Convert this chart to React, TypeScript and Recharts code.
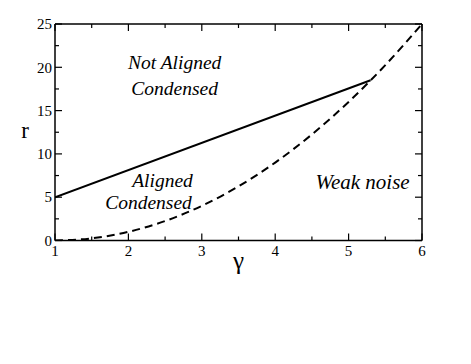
import React from 'react';
import { LineChart, Line, XAxis, YAxis, ReferenceDot, Label } from 'recharts';

const gammaTicks = [1, 1.5, 2, 2.5, 3, 3.5, 4, 4.5, 5, 5.5, 6];
const rTicks = [0, 2.5, 5, 7.5, 10, 12.5, 15, 17.5, 20, 22.5, 25];
const xMajor = [1, 2, 3, 4, 5, 6];
const yMajor = [0, 5, 10, 15, 20, 25];

const solidBoundary = [
  { g: 1, r: 5 },
  { g: 5.3, r: 18.5 },
];

const dashedBoundary = [
  { g: 1, r: 0 },
  { g: 1.5, r: 0.25 },
  { g: 2, r: 1 },
  { g: 2.5, r: 2.25 },
  { g: 3, r: 4 },
  { g: 3.5, r: 6.25 },
  { g: 4, r: 9 },
  { g: 4.5, r: 12.25 },
  { g: 5, r: 16 },
  { g: 5.5, r: 20.25 },
  { g: 6, r: 25 },
];

const annotations = [
  { text: 'Not Aligned', g: 2.63, r: 19.8, size: 19.5 },
  { text: 'Condensed', g: 2.63, r: 16.8, size: 19.5 },
  { text: 'Aligned', g: 2.465, r: 6.18, size: 19.5 },
  { text: 'Condensed', g: 2.274, r: 3.64, size: 19.5 },
  { text: 'Weak noise', g: 5.19, r: 5.95, size: 21 },
];

const FONT = "'Liberation Serif'";
const MAJ = 7;
const MIN = 4;

const BottomTick = (props: any) => {
  const { x, y, payload } = props;
  const major = xMajor.includes(payload.value);
  return (
    <g>
      <line x1={x} y1={y} x2={x} y2={y - (major ? MAJ : MIN)} stroke="#000" strokeWidth={1.2} />
      {major && (
        <text x={x} y={y + 5} dy="0.71em" textAnchor="middle" style={{ fontFamily: FONT, fontSize: 15 }} fill="#000">
          {payload.value}
        </text>
      )}
    </g>
  );
};

const TopTick = (props: any) => {
  const { x, y, payload } = props;
  const major = xMajor.includes(payload.value);
  return <line x1={x} y1={y} x2={x} y2={y + (major ? MAJ : MIN)} stroke="#000" strokeWidth={1.2} />;
};

const LeftTick = (props: any) => {
  const { x, y, payload } = props;
  const major = yMajor.includes(payload.value);
  return (
    <g>
      <line x1={x} y1={y} x2={x + (major ? MAJ : MIN)} y2={y} stroke="#000" strokeWidth={1.2} />
      {major && (
        <text x={x - 3} y={y} dy="0.35em" textAnchor="end" style={{ fontFamily: FONT, fontSize: 15 }} fill="#000">
          {payload.value}
        </text>
      )}
    </g>
  );
};

const RightTick = (props: any) => {
  const { x, y, payload } = props;
  const major = yMajor.includes(payload.value);
  return <line x1={x} y1={y} x2={x - (major ? MAJ : MIN)} y2={y} stroke="#000" strokeWidth={1.2} />;
};

const AnnotationShape = (text: string, size: number) => (props: any) => {
  const { cx, cy } = props;
  return (
    <text x={cx} y={cy} textAnchor="middle" style={{ fontFamily: FONT, fontStyle: 'italic', fontSize: size }} fill="#000">
      {text}
    </text>
  );
};

const GammaLabel = (props: any) => {
  const vb = props.viewBox;
  return (
    <text x={vb.x + vb.width / 2} y={vb.y + 28} textAnchor="middle" style={{ fontFamily: FONT, fontSize: 25 }} fill="#000">
      γ
    </text>
  );
};

const RLabel = (props: any) => {
  const vb = props.viewBox;
  return (
    <text x={vb.x + vb.width - 30} y={vb.y + vb.height / 2 + 6} textAnchor="middle" style={{ fontFamily: FONT, fontSize: 23 }} fill="#000">
      r
    </text>
  );
};

const axisLine = { stroke: '#000', strokeWidth: 1.5 };

export default function App() {
  return (
    <LineChart width={463} height={340} margin={{ top: 15, right: 48, bottom: 77.5, left: 17 }}>
      <XAxis
        xAxisId="b"
        type="number"
        dataKey="g"
        domain={[1, 6]}
        ticks={gammaTicks}
        interval={0}
        allowDataOverflow
        height={30}
        tickSize={0}
        tickMargin={0}
        tickLine={false}
        axisLine={axisLine}
        tick={<BottomTick />}
      >
        <Label content={<GammaLabel />} />
      </XAxis>
      <XAxis
        xAxisId="t"
        orientation="top"
        type="number"
        dataKey="g"
        domain={[1, 6]}
        ticks={gammaTicks}
        interval={0}
        allowDataOverflow
        height={1}
        tickSize={0}
        tickMargin={0}
        tickLine={false}
        axisLine={axisLine}
        tick={<TopTick />}
      />
      <YAxis
        yAxisId="l"
        type="number"
        domain={[0, 25]}
        ticks={rTicks}
        interval={0}
        allowDataOverflow
        width={30}
        tickSize={0}
        tickMargin={0}
        tickLine={false}
        axisLine={axisLine}
        tick={<LeftTick />}
      >
        <Label content={<RLabel />} />
      </YAxis>
      <YAxis
        yAxisId="r"
        orientation="right"
        type="number"
        domain={[0, 25]}
        ticks={rTicks}
        interval={0}
        allowDataOverflow
        width={1}
        tickSize={0}
        tickMargin={0}
        tickLine={false}
        axisLine={axisLine}
        tick={<RightTick />}
      />
      <Line
        xAxisId="b"
        yAxisId="l"
        data={solidBoundary}
        dataKey="r"
        type="linear"
        stroke="#000"
        strokeWidth={2}
        dot={false}
        activeDot={false}
        isAnimationActive={false}
      />
      <Line
        xAxisId="b"
        yAxisId="l"
        data={dashedBoundary}
        dataKey="r"
        type="monotone"
        stroke="#000"
        strokeWidth={2}
        strokeDasharray="8 5"
        dot={false}
        activeDot={false}
        isAnimationActive={false}
      />
      {annotations.map((a, i) => (
        <ReferenceDot
          key={i}
          xAxisId="b"
          yAxisId="l"
          x={a.g}
          y={a.r}
          r={0}
          shape={AnnotationShape(a.text, a.size)}
        />
      ))}
    </LineChart>
  );
}
